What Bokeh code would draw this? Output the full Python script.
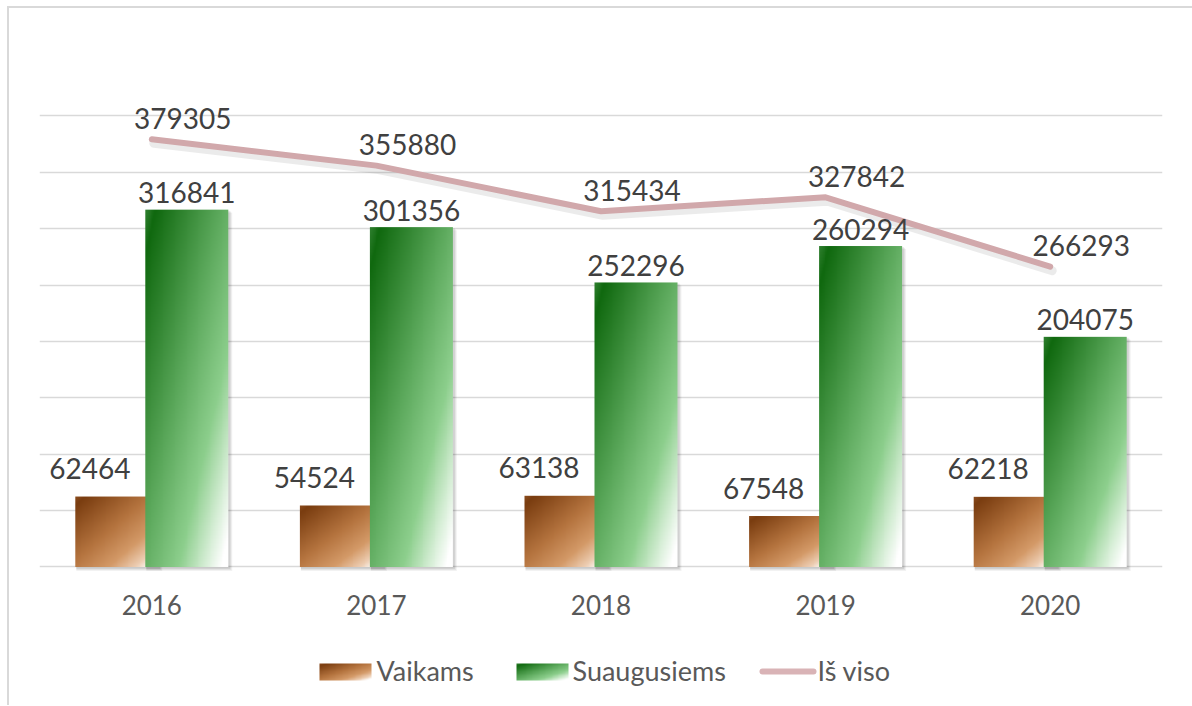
import numpy as np
from bokeh.plotting import figure
from bokeh.models import Range1d, FixedTicker, Grid
from bokeh.layouts import column
from bokeh.core.properties import value
from bokeh.embed import file_html
from bokeh.resources import INLINE

# ---------------- data ----------------
years = ["2016", "2017", "2018", "2019", "2020"]
# bar heights as drawn in the picture
vaikams = [62464, 54524, 63138, 45200, 62218]
suaugusiems = [316841, 301356, 252296, 284600, 204075]
is_viso = [379305, 355880, 315434, 327842, 266293]
# data label texts as printed in the picture
vaikams_labels = ["62464", "54524", "63138", "67548", "62218"]
suaugusiems_labels = ["316841", "301356", "252296", "260294", "204075"]
is_viso_labels = ["379305", "355880", "315434", "327842", "266293"]
series_names = ["Vaikams", "Suaugusiems", "Iš viso"]
y_ticks = [0, 50000, 100000, 150000, 200000, 250000, 300000, 350000, 400000]

# ---------------- styling ----------------
FONT = "Lato"
BROWN_STOPS = [(0.0, "#8c4d1f"), (0.06, "#7a3d10"), (0.45, "#b5743f"),
               (0.70, "#d49a68"), (0.86, "#edcdb2"), (0.96, "#ffffff"), (1.0, "#ffffff")]
GREEN_STOPS = [(0.0, "#2f7f2f"), (0.06, "#10690f"), (0.45, "#5ca95c"),
               (0.70, "#8dcf8d"), (0.86, "#d5eed5"), (0.96, "#ffffff"), (1.0, "#ffffff")]
LINE_COLOR = "#d1a8ab"
GRID_COLOR = "#d9d9d9"

Y_MIN, Y_MAX = -4000, 450000
PX_X = 1.0 / 224.6          # data units per pixel (x)
PX_Y = 454000 / 512.0       # data units per pixel (y)
BAR_W = 83 * PX_X
BAR_OFF = 35 * PX_X


def hex2rgb(h):
    h = h.lstrip("#")
    return [int(h[i:i + 2], 16) for i in (0, 2, 4)]


def gradient_image(stops, nx=90, ny=220):
    u = np.linspace(0, 1, nx)[None, :]
    v = np.linspace(1, 0, ny)[:, None]   # row 0 is the bottom of the image
    t = (u + v) / 2.0
    ts = [s[0] for s in stops]
    img = np.zeros((ny, nx), dtype=np.uint32)
    view = img.view(dtype=np.uint8).reshape((ny, nx, 4))
    for c in range(3):
        vals = [hex2rgb(s[1])[c] for s in stops]
        view[..., c] = np.clip(np.interp(t, ts, vals), 0, 255).astype(np.uint8)
    view[..., 3] = 255
    return img


brown_img = gradient_image(BROWN_STOPS)
green_img = gradient_image(GREEN_STOPS)

idx = list(range(len(years)))

p = figure(width=1183, height=623, output_backend="svg", toolbar_location=None,
           x_range=Range1d(-0.5, 4.5), y_range=Range1d(Y_MIN, Y_MAX),
           y_axis_location=None, min_border_left=30, min_border_right=30,
           min_border_top=51, min_border_bottom=60)
p.outline_line_color = None
p.background_fill_color = "white"
p.border_fill_color = "white"
p.grid.visible = False
p.add_layout(Grid(dimension=1, ticker=FixedTicker(ticks=y_ticks),
                  grid_line_color=GRID_COLOR, grid_line_width=1.5))

# x axis
p.xaxis.ticker = FixedTicker(ticks=idx)
p.xaxis.major_label_overrides = {i: y for i, y in zip(idx, years)}
p.xaxis.axis_line_color = None
p.xaxis.major_tick_line_color = None
p.xaxis.minor_tick_line_color = None
p.xaxis.major_tick_out = 0
p.xaxis.major_tick_in = 0
p.xaxis.major_label_standoff = 23
p.xaxis.major_label_text_font = FONT
p.xaxis.major_label_text_font_size = "26px"
p.xaxis.major_label_text_color = "#595959"

# bar positions
brown_left = [i - BAR_OFF - BAR_W / 2 for i in idx]
green_left = [i + BAR_OFF - BAR_W / 2 for i in idx]

# soft shadows
for k, a in [(4, 0.05), (3, 0.06), (2, 0.08)]:
    for lefts, vals in [(brown_left, vaikams), (green_left, suaugusiems)]:
        p.quad(left=[l + 1 * PX_X for l in lefts],
               right=[l + BAR_W + k * PX_X for l in lefts],
               bottom=[-k * PX_Y] * len(vals),
               top=[v - (k - 1) * PX_Y for v in vals],
               fill_color="black", fill_alpha=a, line_color=None)

p.image_rgba(image=[brown_img] * len(years), x=brown_left, y=[0] * len(years),
             dw=[BAR_W] * len(years), dh=vaikams)
p.image_rgba(image=[green_img] * len(years), x=green_left, y=[0] * len(years),
             dw=[BAR_W] * len(years), dh=suaugusiems)

# line with shadow
p.line(x=[i + 2 * PX_X for i in idx], y=[v - 4 * PX_Y for v in is_viso],
       line_color="black", line_alpha=0.08, line_width=9,
       line_cap="round", line_join="round")
p.line(x=idx, y=is_viso, line_color=LINE_COLOR, line_width=6,
       line_cap="round", line_join="round")

# data labels
label_kw = dict(text_font=value(FONT), text_font_size="28px", text_color="#404040",
                text_align="center", text_baseline="alphabetic")
p.text(x=[i - BAR_OFF for i in idx], y=vaikams, text=vaikams_labels,
       x_offset=-27, y_offset=-28, **label_kw)
p.text(x=[i + BAR_OFF for i in idx], y=suaugusiems, text=suaugusiems_labels,
       x_offset=0, y_offset=-17, **label_kw)
p.text(x=idx, y=is_viso, text=is_viso_labels,
       x_offset=31, y_offset=-21, **label_kw)

# ---------------- legend figure (x in page pixels, frame aligned with main) ----------------
leg = figure(width=1183, height=74, output_backend="svg", toolbar_location=None,
             x_range=Range1d(39, 1162), y_range=Range1d(0, 74),
             x_axis_location=None, y_axis_location=None,
             min_border_left=30, min_border_right=30,
             min_border_top=0, min_border_bottom=0)
leg.outline_line_color = None
leg.grid.visible = False
leg.border_fill_color = "white"

sw_brown = gradient_image(BROWN_STOPS, nx=60, ny=30)
sw_green = gradient_image(GREEN_STOPS, nx=60, ny=30)
leg.image_rgba(image=[sw_brown, sw_green], x=[319, 516], y=[25, 25], dw=[52, 52], dh=[17, 17])
leg.line(x=[762, 813], y=[34, 34], line_color="#d9b3b6", line_width=6, line_cap="round")
leg.text(x=[376, 572, 817], y=[35, 35, 35], text=series_names,
         text_font=value(FONT), text_font_size="27px", text_color="#595959",
         text_align="left", text_baseline="alphabetic")

layout = column(p, leg, spacing=0,
                styles={"border-left": "2px solid #d9d9d9", "border-top": "2px solid #d9d9d9",
                        "margin-left": "7px", "margin-top": "6px"})

open("out.html", "w").write(file_html(layout, INLINE))
